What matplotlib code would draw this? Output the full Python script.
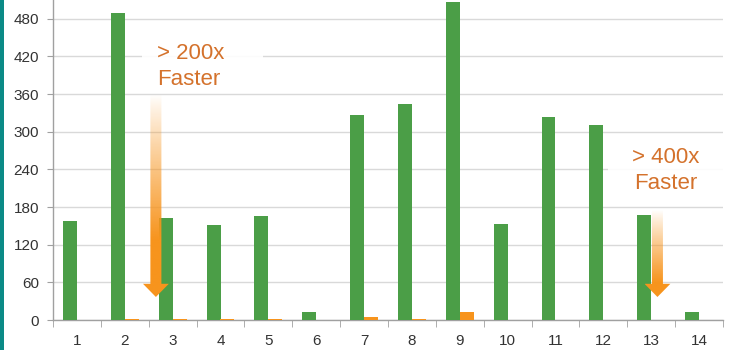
import numpy as np
import matplotlib
matplotlib.use("Agg")
import matplotlib.pyplot as plt
from matplotlib.patches import Rectangle, Polygon
from matplotlib.ticker import FixedLocator

categories = [str(i) for i in range(1, 15)]
green_values = [158, 490, 162, 152, 165, 12, 326, 345, 507, 153, 324, 311, 167, 12]
orange_values = [0.5, 2, 1, 1.5, 0.8, 0.3, 4.5, 1, 13, 0.5, 0.5, 0.5, 0.3, 0.2]
yticks = [0, 60, 120, 180, 240, 300, 360, 420, 480]

GREEN = "#4B9E47"
ORANGE = "#F7941D"
TEXT_OR = "#D4722C"

plt.rcParams['font.family'] = ['Liberation Sans', 'DejaVu Sans']

fig = plt.figure(figsize=(7.32, 3.5), dpi=100)
ax = fig.add_axes([53/732, 30/350, 670/732, 320/350])

x = np.arange(1, len(categories) + 1)
bw = 0.29
ax.bar(x - bw/2, green_values, width=bw, color=GREEN, zorder=3)
ax.bar(x + bw/2, orange_values, width=bw, color=ORANGE, zorder=3)

ax.set_xlim(0.5, len(categories) + 0.5)
ax.set_ylim(0, 510)
ax.set_yticks(yticks)
ax.set_xticks(x)
ax.set_xticklabels(categories)
ax.xaxis.set_minor_locator(FixedLocator(np.arange(0.5, len(categories) + 1, 1.0)))

ax.grid(axis='y', color='#d9d9d9', linewidth=1, zorder=0)
ax.set_axisbelow(True)
for s in ['top', 'right']:
    ax.spines[s].set_visible(False)
for s in ['left', 'bottom']:
    ax.spines[s].set_color('#a0a0a0')
    ax.spines[s].set_linewidth(1)

ax.tick_params(axis='y', length=4, color='#a0a0a0', pad=6, labelsize=11, labelcolor='#333333')
ax.tick_params(axis='x', which='major', length=0, pad=10, labelsize=11, labelcolor='#333333')
ax.tick_params(axis='x', which='minor', length=5, color='#a0a0a0')

# white boxes behind annotation text
ax.add_patch(Rectangle((2.36, 365), 2.52, 88, facecolor='white', edgecolor='none', zorder=4, alpha=0.9))
ax.add_patch(Rectangle((12.1, 198), 2.4, 88, facecolor='white', edgecolor='none', zorder=4, alpha=0.9))

ax.text(2.67, 441, "> 200x\nFaster", color=TEXT_OR, fontsize=16, ha='left', va='top',
        linespacing=1.3, zorder=6)
ax.text(13.31, 276, "> 400x\nFaster", color=TEXT_OR, fontsize=16, ha='center', va='top',
        multialignment='center', linespacing=1.3, zorder=6)


def grad_arrow(cx, ytop, ybot, ysolid, shaft_w=0.23, head_w=0.54, head_h=21):
    yh = ybot + head_h
    verts = [(cx - shaft_w/2, ytop), (cx + shaft_w/2, ytop), (cx + shaft_w/2, yh),
             (cx + head_w/2, yh), (cx, ybot), (cx - head_w/2, yh), (cx - shaft_w/2, yh)]
    poly = Polygon(verts, closed=True, facecolor='none', edgecolor='none', transform=ax.transData)
    ax.add_patch(poly)
    n = 256
    ys = np.linspace(ybot, ytop, n)
    alpha = np.clip((ytop - ys) / (ytop - ysolid), 0, 1) ** 0.9
    rgb = np.array(matplotlib.colors.to_rgb(ORANGE))
    img = np.zeros((n, 2, 4))
    img[:, :, :3] = rgb
    img[:, :, 3] = alpha[:, None]
    im = ax.imshow(img, extent=[cx - head_w/2, cx + head_w/2, ybot, ytop], origin='lower',
                   aspect='auto', zorder=5, interpolation='bilinear')
    im.set_clip_path(poly)


grad_arrow(2.65, 359, 36.7, 128)
grad_arrow(13.13, 175, 36.7, 60)

ax.set_xlim(0.5, len(categories) + 0.5)
ax.set_ylim(0, 510)

fig.patches.append(Rectangle((0, 0), 4/732, 1, transform=fig.transFigure,
                             facecolor='#0B8A86', edgecolor='none'))

fig.savefig('out.png', dpi=100)
